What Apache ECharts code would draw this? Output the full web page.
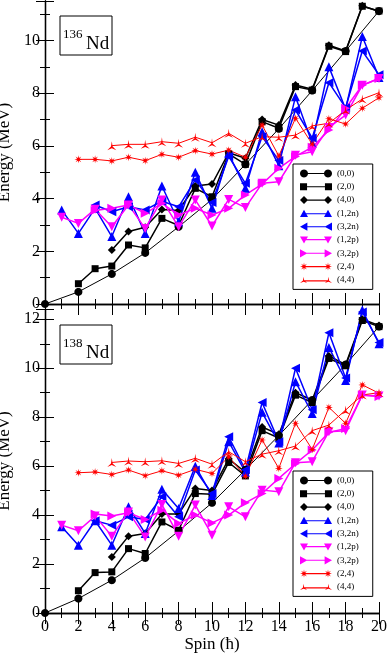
<!DOCTYPE html>
<html>
<head>
<meta charset="utf-8">
<script src="https://cdn.jsdelivr.net/npm/echarts@6/dist/echarts.min.js"></script>
<style>
html, body { margin: 0; padding: 0; background: #fff; }
#chart { width: 388px; height: 654px; }
</style>
</head>
<body>
<div id="chart"></div>
<script>
// spin values (hbar) for each band
var spinsEven = [0, 2, 4, 6, 8, 10, 12, 14, 16, 18, 20];
var spinsFrom1 = [1, 2, 3, 4, 5, 6, 7, 8, 9, 10, 11, 12, 13, 14, 15, 16, 17, 18, 19, 20];
var spinsFrom2 = [2, 3, 4, 5, 6, 7, 8, 9, 10, 11, 12, 13, 14, 15, 16, 17, 18, 19, 20];
var spinsFrom3 = [3, 4, 5, 6, 7, 8, 9, 10, 11, 12, 13, 14, 15, 16, 17, 18, 19, 20];
var spinsFrom4 = [4, 5, 6, 7, 8, 9, 10, 11, 12, 13, 14, 15, 16, 17, 18, 19, 20];

var bandNames = ['(0,0)', '(2,0)', '(4,0)', '(1,2n)', '(3,2n)', '(1,2p)', '(3,2p)', '(2,4)', '(4,4)'];

// 136Nd energies (MeV)
var nd136_00 = [0, 0.46, 1.14, 1.94, 2.93, 3.97, 5.3, 6.65, 8.1, 9.6, 11.12];
var nd136_20 = [0.77, 1.34, 1.44, 2.24, 2.13, 3.25, 2.98, 4.39, 4.07, 5.7, 5.3, 6.92, 6.67, 8.25, 8.12, 9.78, 9.58, 11.3, 11.12];
var nd136_40 = [2.05, 2.75, 2.91, 3.59, 3.55, 4.48, 4.55, 5.74, 5.53, 7.0, 6.79, 8.31, 8.15, 9.82, 9.6, 11.32, 11.1];
var nd136_12n = [3.57, 2.68, 3.63, 2.56, 4.07, 2.68, 4.48, 3.12, 5.0, 3.63, 5.7, 4.39, 6.54, 5.25, 7.87, 6.1, 9.0, 7.4, 10.15, 8.6];
var nd136_32n = [3.76, 3.5, 3.69, 3.57, 3.9, 3.69, 4.71, 3.85, 5.6, 4.58, 6.35, 5.45, 7.36, 6.3, 8.4, 7.45, 9.6, 8.7];
var nd136_12p = [3.29, 3.06, 3.6, 2.93, 3.76, 2.87, 3.95, 2.93, 3.95, 2.96, 3.97, 3.66, 4.58, 4.64, 5.65, 5.78, 6.7, 7.17, 8.3, 8.56];
var nd136_32p = [3.55, 3.63, 3.76, 3.44, 3.82, 3.38, 3.63, 3.38, 3.63, 4.14, 4.55, 5.15, 5.6, 5.95, 6.6, 7.43, 8.3, 8.56];
var nd136_24 = [5.49, 5.49, 5.43, 5.57, 5.44, 5.68, 5.57, 5.82, 5.69, 5.84, 5.57, 6.79, 5.62, 7.05, 6.07, 7.03, 6.83, 7.43, 7.83];
var nd136_44 = [6.01, 6.06, 6.06, 6.16, 6.1, 6.33, 6.12, 6.48, 6.1, 6.35, 6.33, 6.41, 6.76, 6.86, 7.36, 7.78, 8.02];

// 138Nd energies (MeV)
var nd138_00 = [0, 0.59, 1.34, 2.25, 3.35, 4.5, 5.85, 7.25, 8.7, 10.15, 11.7];
var nd138_20 = [0.91, 1.65, 1.68, 2.63, 2.43, 3.72, 3.38, 4.88, 4.85, 6.15, 5.6, 7.45, 7.15, 8.9, 8.6, 10.4, 10.1, 11.95, 11.7];
var nd138_40 = [2.29, 3.14, 3.25, 4.04, 4.04, 5.09, 5.0, 6.3, 5.75, 7.6, 7.3, 9.0, 8.7, 10.5, 10.15, 12.0, 11.75];
var nd138_12n = [3.52, 2.77, 3.77, 2.77, 4.34, 3.25, 5.06, 4.27, 6.0, 4.8, 7.0, 5.75, 8.2, 6.95, 9.45, 8.15, 10.85, 9.5, 12.38, 11.0];
var nd138_32n = [3.77, 3.59, 3.93, 3.82, 4.75, 3.93, 5.84, 4.88, 7.2, 5.85, 8.6, 7.0, 10.0, 8.3, 11.45, 9.6, 12.3, 11.05];
var nd138_12p = [3.59, 3.36, 3.96, 3.14, 4.13, 3.11, 4.43, 3.14, 4.41, 3.18, 4.34, 3.93, 5.02, 4.95, 6.14, 6.18, 7.41, 7.45, 8.91, 8.87];
var nd138_32p = [4.04, 3.96, 4.1, 3.82, 4.2, 3.66, 4.0, 3.68, 4.0, 4.5, 4.88, 5.5, 6.1, 6.66, 7.38, 7.54, 8.9, 8.85];
var nd138_24 = [5.73, 5.76, 5.66, 5.84, 5.61, 5.81, 5.63, 5.87, 5.7, 6.38, 5.59, 7.07, 5.91, 7.75, 6.68, 8.4, 7.75, 9.32, 8.98];
var nd138_44 = [6.15, 6.21, 6.18, 6.22, 6.11, 6.32, 6.08, 6.59, 6.18, 6.49, 6.63, 6.82, 7.45, 7.68, 8.29, 8.91, 9.0];

var serif = '"Liberation Serif", "DejaVu Serif", serif';

function zip(spins, vals) {
    return vals.map(function (v, i) { return [spins[i], v]; });
}

// marker shapes as polygon path strings
function poly(pts) {
    return 'M' + pts.map(function (p) { return p[0].toFixed(2) + ',' + p[1].toFixed(2); }).join('L') + 'Z';
}
function star(cx, cy, n, rOut, rIn, start) {
    var pts = [];
    for (var i = 0; i < n * 2; i++) {
        var a = start + i * Math.PI / n;
        var r = i % 2 ? rIn : rOut;
        pts.push([cx + r * Math.cos(a), cy + r * Math.sin(a)]);
    }
    return poly(pts);
}
var shapes = {
    circle: function (x, y, r) { return star(x, y, 12, r, r, 0); },
    square: function (x, y, r) { r *= 0.85; return poly([[x - r, y - r], [x + r, y - r], [x + r, y + r], [x - r, y + r]]); },
    diamond: function (x, y, r) { return poly([[x, y - r], [x + r, y], [x, y + r], [x - r, y]]); },
    up: function (x, y, r) { return poly([[x, y - r], [x + r, y + r * 0.8], [x - r, y + r * 0.8]]); },
    down: function (x, y, r) { return poly([[x - r, y - r * 0.8], [x + r, y - r * 0.8], [x, y + r]]); },
    left: function (x, y, r) { return poly([[x - r, y], [x + r * 0.8, y - r], [x + r * 0.8, y + r]]); },
    right: function (x, y, r) { return poly([[x - r * 0.8, y - r], [x + r, y], [x - r * 0.8, y + r]]); },
    aster: function (x, y, r) { return star(x, y, 8, r, r * 0.35, -Math.PI / 2); },
    tri: function (x, y, r) { return star(x, y, 3, r, r * 0.18, -Math.PI / 2); }
};

var bandStyle = [
    { color: '#000000', width: 1, shape: 'circle', size: 8 },
    { color: '#000000', width: 1.5, shape: 'square', size: 7 },
    { color: '#000000', width: 1.5, shape: 'diamond', size: 8 },
    { color: '#0000ff', width: 1.5, shape: 'up', size: 9 },
    { color: '#0000ff', width: 1.5, shape: 'left', size: 9 },
    { color: '#ff00ff', width: 1.5, shape: 'down', size: 9 },
    { color: '#ff00ff', width: 1.5, shape: 'right', size: 9 },
    { color: '#ff0000', width: 1, shape: 'aster', size: 8 },
    { color: '#ff0000', width: 1, shape: 'tri', size: 9 }
];

function legendIcon(shape) {
    var f = shapes[shape];
    return 'path://' + f(4, 4, 4) + poly([[4, 3.45], [28, 3.45], [28, 4.55], [4, 4.55]]) + f(28, 4, 4);
}

var panels = [
    [zip(spinsEven, nd136_00), zip(spinsFrom2, nd136_20), zip(spinsFrom4, nd136_40),
     zip(spinsFrom1, nd136_12n), zip(spinsFrom3, nd136_32n), zip(spinsFrom1, nd136_12p),
     zip(spinsFrom3, nd136_32p), zip(spinsFrom2, nd136_24), zip(spinsFrom4, nd136_44)],
    [zip(spinsEven, nd138_00), zip(spinsFrom2, nd138_20), zip(spinsFrom4, nd138_40),
     zip(spinsFrom1, nd138_12n), zip(spinsFrom3, nd138_32n), zip(spinsFrom1, nd138_12p),
     zip(spinsFrom3, nd138_32p), zip(spinsFrom2, nd138_24), zip(spinsFrom4, nd138_44)]
];

var frameLine = { lineStyle: { color: '#000', width: 1.3 } };
var evenOnly = function (v) { return v % 2 === 0 ? String(v) : ''; };

function xAx(grid, pos, labels) {
    return {
        type: 'value', gridIndex: grid, position: pos, min: 0, max: 20, interval: 2,
        axisLine: frameLine,
        axisTick: { inside: true, length: 11, lineStyle: { color: '#000', width: 1 } },
        minorTick: { show: true, splitNumber: 2, length: 5, lineStyle: { color: '#000', width: 1 } },
        splitLine: { show: false },
        axisLabel: { show: labels, margin: 6, color: '#000', fontFamily: serif, fontSize: 16 },
        name: labels ? 'Spin (\u0127)' : '', nameLocation: 'middle', nameGap: 26,
        nameTextStyle: { color: '#000', fontFamily: serif, fontSize: 17, verticalAlign: 'middle' }
    };
}
function yAx(grid, pos, max, labels) {
    return {
        type: 'value', gridIndex: grid, position: pos, min: 0, max: max, interval: 2,
        axisLine: frameLine,
        axisTick: { inside: true, length: 9, lineStyle: { color: '#000', width: 1 } },
        minorTick: { show: true, splitNumber: 2, length: 5, lineStyle: { color: '#000', width: 1 } },
        splitLine: { show: false },
        axisLabel: { show: labels, margin: 5, color: '#000', fontFamily: serif, fontSize: 16, formatter: evenOnly },
        name: labels ? 'Energy (MeV)' : '', nameLocation: 'middle', nameGap: 35,
        nameTextStyle: { color: '#000', fontFamily: serif, fontSize: 17, verticalAlign: 'middle' }
    };
}

var series = [];
panels.forEach(function (bands, pi) {
    bands.forEach(function (data, bi) {
        var st = bandStyle[bi];
        series.push({
            name: bandNames[bi],
            type: 'line',
            xAxisIndex: pi * 2,
            yAxisIndex: pi * 2,
            data: data,
            symbol: 'path://' + shapes[st.shape](5, 5, 5),
            symbolSize: st.size,
            showSymbol: true,
            clip: false,
            itemStyle: { color: st.color },
            lineStyle: { color: st.color, width: st.width }
        });
    });
});

function legendFor(top) {
    return {
        orient: 'vertical', left: 293, top: top,
        selectedMode: false,
        backgroundColor: '#fff', borderColor: '#000', borderWidth: 1,
        padding: [5, 14, 5, 7],
        itemWidth: 32, itemHeight: 9, itemGap: 4.3,
        textStyle: { color: '#000', fontFamily: serif, fontSize: 9, lineHeight: 9 },
        data: bandNames.map(function (n, i) {
            return { name: n, icon: legendIcon(bandStyle[i].shape) };
        })
    };
}

function nucleusLabel(top, mass) {
    return [
        { type: 'rect', shape: { x: 60, y: top, width: 52, height: 39 },
          style: { fill: '#fff', stroke: '#000', lineWidth: 1 } },
        { type: 'text', x: 63, y: top + 19, style: { text: mass, font: '13px ' + serif, fill: '#000', verticalAlign: 'middle' } },
        { type: 'text', x: 86, y: top + 27.6, style: { text: 'Nd', font: '19px ' + serif, fill: '#000', verticalAlign: 'middle' } }
    ];
}

var chart = echarts.init(document.getElementById('chart'));
chart.setOption({
    animation: false,
    grid: [
        { left: 45, top: 1, width: 334, height: 303, containLabel: false, outerBoundsMode: 'none' },
        { left: 45, top: 309, width: 334, height: 304, containLabel: false, outerBoundsMode: 'none' }
    ],
    xAxis: [xAx(0, 'bottom', false), xAx(0, 'top', false), xAx(1, 'bottom', true), xAx(1, 'top', false)],
    yAxis: [yAx(0, 'left', 11.5, true), yAx(0, 'right', 11.5, false), yAx(1, 'left', 12.42, true), yAx(1, 'right', 12.42, false)],
    legend: [legendFor(164), legendFor(471)],
    graphic: nucleusLabel(16, '136').concat(nucleusLabel(325, '138')),
    series: series
});
</script>
</body>
</html>
